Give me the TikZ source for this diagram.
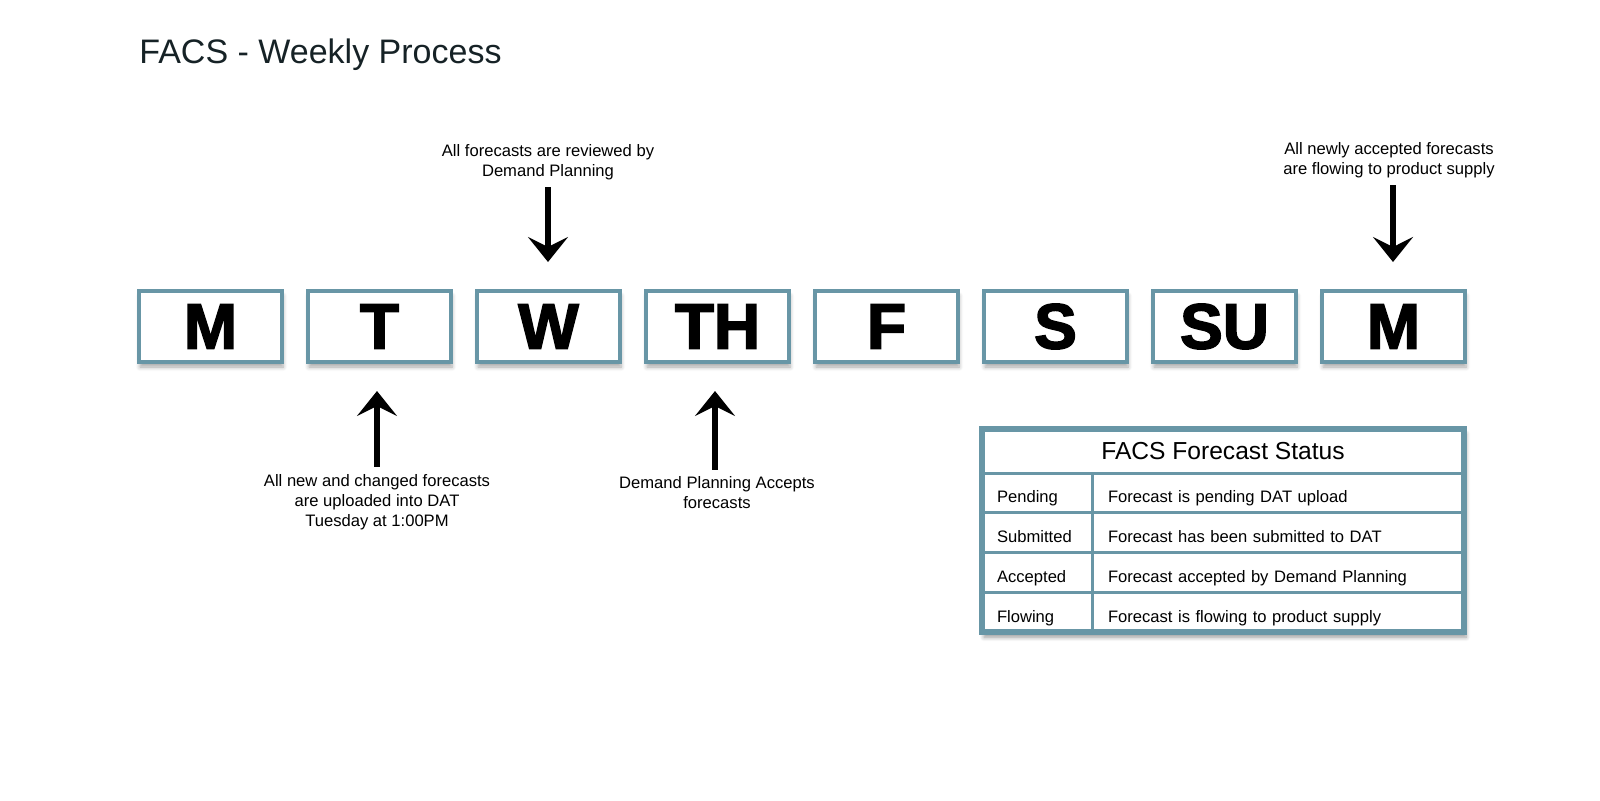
\documentclass[tikz,border=0pt]{standalone}
\usepackage{fontspec}
\setmainfont{Liberation Sans}
\newfontfamily\dayfont[FakeBold=2.5]{Liberation Sans Bold}
\usepackage{tikz}
\usetikzlibrary{arrows.meta,positioning,backgrounds,shadows.blur}
\definecolor{steelframe}{RGB}{104,150,166}
\definecolor{titleink}{RGB}{22,34,38}
\tikzset{
  daybox/.style={
    draw=steelframe,
    line width=2pt,
    fill=white,
    minimum width=71.5pt,
    minimum height=35.5pt,
    inner sep=0pt,
    font=\dayfont\fontsize{32}{32}\selectfont,
    blur shadow={shadow xshift=.5pt, shadow yshift=-2.5pt, shadow blur steps=6, shadow opacity=35}
  },
  note/.style={
    align=center,
    inner sep=0pt,
    font=\fontsize{8.3}{10}\selectfont
  },
  stathead/.style={
    draw=steelframe,
    line width=1.5pt,
    fill=white,
    minimum width=241pt,
    minimum height=22pt,
    inner sep=0pt,
    outer sep=0pt,
    font=\fontsize{12.3}{14}\selectfont
  },
  statlab/.style={
    draw=steelframe,
    line width=1.5pt,
    fill=white,
    align=left,
    text width=40pt,
    text height=10.5pt,
    text depth=.5pt,
    inner xsep=7.5pt,
    inner ysep=0pt,
    outer sep=0pt,
    minimum height=19.9pt,
    font=\fontsize{8.3}{10}\selectfont
  },
  statdesc/.style={
    statlab,
    text width=170pt,
    inner xsep=8pt
  },
  tabframe/.style={
    draw=steelframe,
    line width=3pt
  },
  arrow/.style={
    -{Stealth[length=12.5pt, width=20pt, inset=5pt]},
    line width=3pt,
    black,
    shorten <=3.5pt,
    shorten >=13.5pt
  }
}
\begin{document}
\begin{tikzpicture}[x=0.5pt, y=-0.5pt, node distance=11pt]
\useasboundingbox (0,0) rectangle (1600,800);
\node[anchor=base west, inner sep=0pt, text=titleink, font=\fontsize{17}{20}\selectfont] (title) at (139,63) {FACS - Weekly Process};

\node[daybox] (d1) at (210.5,326.5) {M};
\node[daybox, right=of d1] (d2) {T};
\node[daybox, right=of d2] (d3) {W};
\node[daybox, right=of d3] (d4) {TH};
\node[daybox, right=of d4] (d5) {F};
\node[daybox, right=of d5] (d6) {S};
\node[daybox, right=of d6] (d7) {SU};
\node[daybox, right=of d7] (d8) {M};

\node[note] (rev) at (548,162) {All forecasts are reviewed by\\Demand Planning};
\node[note] (flow) at (1389,160) {All newly accepted forecasts\\are flowing to product supply};
\node[note] (upl) at (377,502) {All new and changed forecasts\\are uploaded into DAT\\Tuesday at 1:00PM};
\node[note] (acc) at (717,493) {Demand Planning Accepts\\forecasts};

\draw[arrow] (rev.south) -- (rev.south |- d3.north);
\draw[arrow] ([xshift=2pt]flow.south) -- ([xshift=2pt]flow.south |- d8.north);
\draw[arrow] (upl.north) -- (upl.north |- d2.south);
\draw[arrow] ([xshift=-1pt]acc.north) -- ([xshift=-1pt]acc.north |- d4.south);

\node[stathead] (hdr) at (1223,451) {FACS Forecast Status};
\node[statlab, below=0pt of hdr.south west, anchor=north west] (s1) {Pending};
\node[statdesc, right=0pt of s1] (e1) {Forecast is pending DAT upload};
\node[statlab, below=0pt of s1] (s2) {Submitted};
\node[statdesc, right=0pt of s2] (e2) {Forecast has been submitted to DAT};
\node[statlab, below=0pt of s2] (s3) {Accepted};
\node[statdesc, right=0pt of s3] (e3) {Forecast accepted by Demand Planning};
\node[statlab, below=0pt of s3] (s4) {Flowing};
\node[statdesc, right=0pt of s4] (e4) {Forecast is flowing to product supply};
\begin{scope}[on background layer]
\fill[white, blur shadow={shadow xshift=1pt, shadow yshift=-2.5pt, shadow blur steps=6, shadow opacity=40}] (hdr.north west) rectangle (e4.south east);
\end{scope}
\draw[tabframe] (hdr.north west) rectangle (e4.south east);
\end{tikzpicture}
\end{document}
